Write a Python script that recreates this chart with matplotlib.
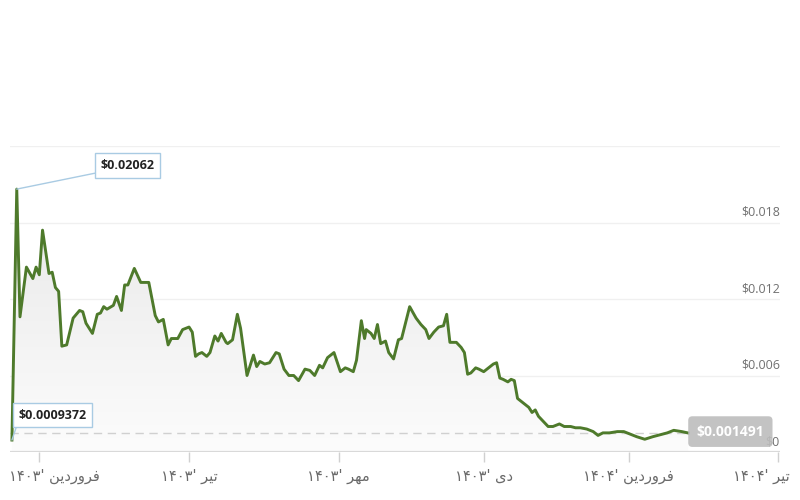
import numpy as np
import pandas as pd
import matplotlib
matplotlib.use('Agg')
import matplotlib.pyplot as plt
import matplotlib.dates as mdates
from matplotlib.colors import LinearSegmentedColormap
from matplotlib import transforms

# price history (days after the first sample, price in USD)
start = pd.Timestamp('2024-03-03')
day_offsets = [0, 3, 5, 9, 13, 15, 17, 19, 23, 25, 27, 29, 31, 34, 38, 42, 44, 46, 50, 53,
               55, 57, 59, 63, 65, 68, 70, 72, 76, 80, 85, 89, 91, 94, 97, 99, 103, 106, 110, 112,
               114, 116, 118, 121, 123, 126, 128, 130, 133, 134, 137, 140, 142, 146, 150, 152, 154, 157, 160, 164,
               166, 169, 172, 175, 178, 182, 185, 188, 191, 193, 196, 200, 204, 207, 209, 212, 214, 217, 219, 220,
               223, 225, 227, 229, 232, 234, 237, 240, 242, 247, 251, 254, 257, 259, 262, 265, 268, 270, 272, 276,
               279, 281, 283, 285, 288, 290, 293, 296, 299, 301, 303, 305, 308, 310, 312, 314, 318, 321, 323, 325,
               327, 330, 333, 336, 340, 343, 347, 350, 353, 357, 361, 364, 367, 371, 376, 380, 384, 388, 393, 398,
               401, 407, 411, 416, 420]
prices = [0.0009372, 0.02062, 0.0106, 0.0145, 0.0136, 0.0145, 0.0139, 0.0174, 0.0140, 0.0141,
          0.0129, 0.0126, 0.0083, 0.0084, 0.0105, 0.0111, 0.0110, 0.0101, 0.0093, 0.0108,
          0.0109, 0.0114, 0.0112, 0.0115, 0.0122, 0.0111, 0.0131, 0.0131, 0.0144, 0.0133,
          0.0133, 0.0107, 0.0102, 0.0104, 0.0084, 0.0089, 0.0089, 0.0096, 0.0098, 0.0094,
          0.0075, 0.0077, 0.0078, 0.0075, 0.0078, 0.0091, 0.0087, 0.0093, 0.0086, 0.0085,
          0.0088, 0.0108, 0.0097, 0.0060, 0.0076, 0.0067, 0.0071, 0.0069, 0.0070, 0.0078,
          0.0077, 0.0065, 0.0060, 0.0060, 0.0056, 0.0065, 0.0064, 0.0060, 0.0068, 0.0066,
          0.0074, 0.0078, 0.0063, 0.0066, 0.0065, 0.0063, 0.0072, 0.0103, 0.0089, 0.0096,
          0.0093, 0.0089, 0.0100, 0.0085, 0.0087, 0.0078, 0.0073, 0.0088, 0.0089, 0.0114,
          0.0105, 0.0100, 0.0096, 0.0089, 0.0094, 0.0098, 0.0099, 0.0108, 0.0086, 0.0086,
          0.0082, 0.0078, 0.0061, 0.0062, 0.0066, 0.0065, 0.0063, 0.0066, 0.0069, 0.0070,
          0.0058, 0.0057, 0.0055, 0.0057, 0.0056, 0.0042, 0.0038, 0.0035, 0.0031, 0.0033,
          0.0028, 0.0024, 0.0020, 0.0020, 0.0022, 0.0020, 0.0020, 0.0019, 0.0019, 0.0018,
          0.0016, 0.0013, 0.0015, 0.0015, 0.0016, 0.0016, 0.0014, 0.0012, 0.0010, 0.0012,
          0.0013, 0.0015, 0.0017, 0.0016, 0.001491]

high_price = 0.02062
low_price = 0.0009372
last_price = 0.001491

# Jalali month starts (Farvardin/Tir/Mehr/Dey) - text in Arabic presentation forms, visual order
far = '\uFEE6\uFBFE\uFEA9\uFEAD\uFEED\uFEAE\uFED3'
tir = '\uFEAE\uFBFF\uFE97'
mehr = '\uFEAE\uFEEC\uFEE3'
dey = '\uFBFC\uFEA9'
y1403 = '\u06F1\u06F4\u06F0\u06F3'
y1404 = '\u06F1\u06F4\u06F0\u06F4'
tick_dates = ['2024-03-20', '2024-06-21', '2024-09-22', '2024-12-21', '2025-03-21', '2025-06-22']
tick_labels = [y1403 + "' " + far, y1403 + "' " + tir, y1403 + "' " + mehr,
               y1403 + "' " + dey, y1404 + "' " + far, y1404 + "' " + tir]

y_ticks = [0, 0.006, 0.012, 0.018]
y_tick_labels = [r'\$0', r'\$0.006', r'\$0.012', r'\$0.018']
grid_levels = [0.006, 0.012, 0.018, 0.024]

dates = start + pd.to_timedelta(day_offsets, unit='D')
xnum = mdates.date2num(dates)
line_color = '#4e7a2b'
latin = ['Open Sans', 'DejaVu Sans']

fig = plt.figure(figsize=(8, 5), dpi=100)
ax = fig.add_axes([0.0125, 0.096, 0.9625, 0.612])

x0 = mdates.date2num(start - pd.Timedelta(days=1.2))
x1 = mdates.date2num(start + pd.Timedelta(days=477))
ax.set_xlim(x0, x1)
ax.set_ylim(0, 0.024)

for g in grid_levels:
    ax.axhline(g, color='#f0f0f0', lw=1, zorder=0)
ax.axhline(0, color='#d9d9d9', lw=1.6, zorder=3)

# gradient fill under the line
poly = ax.fill_between(xnum, prices, 0, color='none', lw=0)
grad_cmap = LinearSegmentedColormap.from_list('g', ['#fcfcfc', '#e8e8e8'])
grad = np.linspace(0, 1, 256).reshape(-1, 1)
img = ax.imshow(grad, extent=[x0, x1, 0, high_price], origin='lower', aspect='auto',
                cmap=grad_cmap, zorder=1)
img.set_clip_path(poly.get_paths()[0], transform=ax.transData)

ax.plot(xnum, prices, color=line_color, lw=2.1, zorder=4, solid_joinstyle='round')

# current price dashed line
ax.plot([x0, xnum[-1]], [last_price, last_price], color='#d0d0d0', lw=1,
        ls=(0, (6, 4)), zorder=2)

ax.set_xticks(mdates.date2num(pd.to_datetime(tick_dates)))
ax.set_xticklabels(tick_labels, family=['DejaVu Sans'], fontsize=10.5, color='#6a6a6a')
ax.tick_params(axis='x', length=7, width=1, color='#d0d0d0', pad=5)
ax.set_yticks([])
for s in ax.spines.values():
    s.set_visible(False)

# first and last month labels are pushed inside the figure
labels = ax.get_xticklabels()
labels[0].set_horizontalalignment('left')
labels[0].set_transform(labels[0].get_transform() +
                        transforms.ScaledTranslation(-30 / 100, 0, fig.dpi_scale_trans))
labels[-1].set_horizontalalignment('right')
labels[-1].set_transform(labels[-1].get_transform() +
                         transforms.ScaledTranslation(11 / 100, 0, fig.dpi_scale_trans))

trans = transforms.blended_transform_factory(ax.transAxes, ax.transData)
for v, lab in zip(y_ticks, y_tick_labels):
    ax.text(1.0, v + 0.0003, lab, transform=trans, ha='right', va='bottom',
            fontsize=9, color='#707070', family=latin, zorder=5)

box_kw = dict(boxstyle='square,pad=0.45', fc='white', ec='#a9cbe3', lw=1)
arrow_kw = dict(arrowstyle='-', color='#a9cbe3', lw=1, relpos=(0, 0), shrinkA=0, shrinkB=0)
ax.annotate(r'\$0.02062', xy=(xnum[1], high_price), xytext=(80, 17), textcoords='offset points',
            ha='center', va='center', fontsize=9, fontweight='bold', color='#222222',
            family=latin, bbox=box_kw, arrowprops=arrow_kw, zorder=6)
ax.annotate(r'\$0.0009372', xy=(xnum[0], low_price), xytext=(29, 18), textcoords='offset points',
            ha='center', va='center', fontsize=9, fontweight='bold', color='#222222',
            family=latin, bbox=box_kw, arrowprops=arrow_kw, zorder=6)
ax.annotate(r'\$0.001491', xy=(xnum[-1], last_price), xytext=(6, 1), textcoords='offset points',
            ha='left', va='center', fontsize=10, fontweight='bold', color='white',
            family=latin, zorder=6,
            bbox=dict(boxstyle='round,pad=0.6,rounding_size=0.3', fc='#bdbdbd', ec='none', alpha=0.9))

fig.savefig('out.png', dpi=100, facecolor='white')
